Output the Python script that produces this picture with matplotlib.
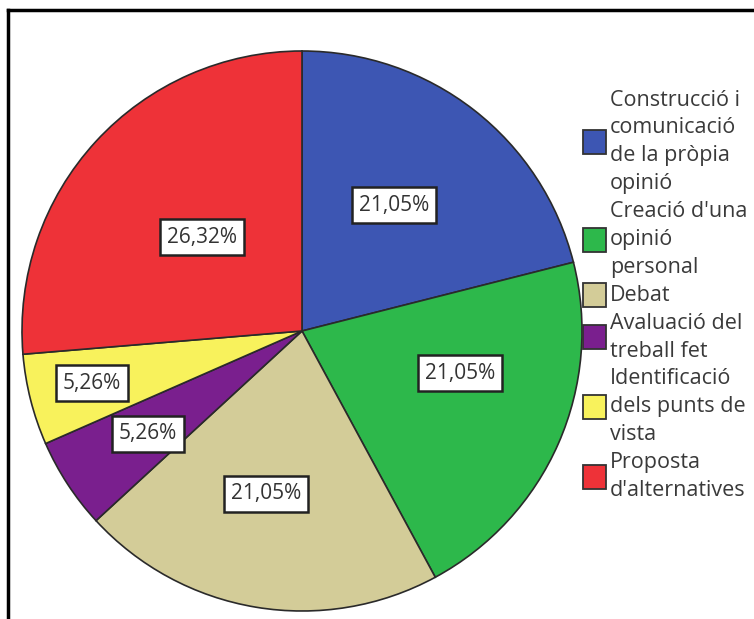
import matplotlib.pyplot as plt
from matplotlib.patches import Rectangle

# categories and their share of responses (%)
categories = [
    "Construcció i comunicació de la pròpia opinió",
    "Creació d'una opinió personal",
    "Debat",
    "Avaluació del treball fet",
    "Identificació dels punts de vista",
    "Proposta d'alternatives",
]
legend_lines = [
    ["Construcció i", "comunicació", "de la pròpia", "opinió"],
    ["Creació d'una", "opinió", "personal"],
    ["Debat"],
    ["Avaluació del", "treball fet"],
    ["Identificació", "dels punts de", "vista"],
    ["Proposta", "d'alternatives"],
]
values = [21.05, 21.05, 21.05, 5.26, 5.26, 26.32]
colors = ["#3d56b3", "#2db84b", "#d3cc98", "#7a1f8e", "#f8f25c", "#ee3238"]

W, H = 754, 619
fig = plt.figure(figsize=(W / 100, H / 100), dpi=100)
ax = fig.add_axes([0, 0, 1, 1])
plt.rcParams['font.family'] = ['Open Sans', 'DejaVu Sans']


def fy(y):
    # pixel row (from top) -> data y
    return H - y


cx, cy, r = 302, 331, 280
wedges, texts, autotexts = ax.pie(
    values, colors=colors, startangle=90, counterclock=False,
    center=(cx, fy(cy)), radius=r, frame=True,
    autopct=lambda p: f"{p:.2f}%".replace(".", ","),
    wedgeprops=dict(edgecolor="#2a2a2a", linewidth=1.2),
    textprops=dict(fontsize=15, color="#333333"),
)

# label spots inside each slice
label_pos = [(394, 205), (460, 373), (266, 494), (148, 434), (92, 383), (202, 237)]
for t, (lx, ly) in zip(autotexts, label_pos):
    t.set_position((lx, fy(ly)))
    t.set_ha("center")
    t.set_va("center")
    t.set_bbox(dict(boxstyle="square,pad=0.35", facecolor="white",
                    edgecolor="#222222", linewidth=1.8))

# legend drawn by hand: one block of lines per category
line_h = 27.9
y = 100
for lines, c in zip(legend_lines, colors):
    mid = y + (len(lines) - 1) * line_h / 2
    ax.add_patch(Rectangle((583, fy(mid) - 12), 23, 24, facecolor=c,
                           edgecolor="#333333", linewidth=1.3))
    for ln in lines:
        ax.text(610, fy(y), ln, fontsize=15.5, color="#3a3a3a",
                ha="left", va="center")
        y += line_h

# outer frame (top and left edges)
ax.plot([8, W], [fy(10), fy(10)], color="black", linewidth=2.5)
ax.plot([8, 8], [fy(10), 0], color="black", linewidth=2.5)

ax.set_xlim(0, W)
ax.set_ylim(0, H)
ax.set_aspect("equal")
ax.axis("off")

fig.savefig("out.png", dpi=100)
